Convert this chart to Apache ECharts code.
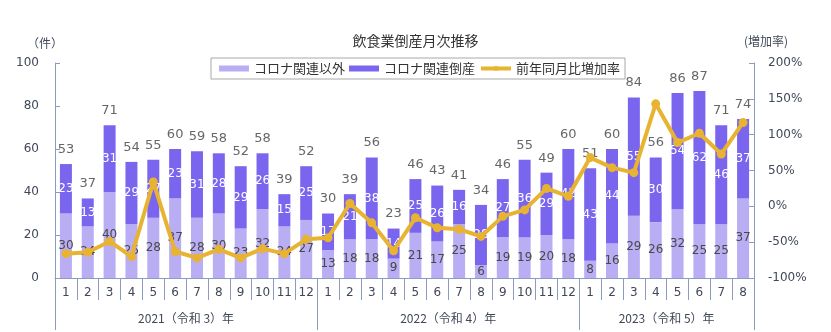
<!DOCTYPE html>
<html>
<head>
<meta charset="utf-8">
<script src="https://cdn.jsdelivr.net/npm/echarts@6/dist/echarts.min.js"></script>
<style>
  html, body { margin: 0; padding: 0; background: #fff; }
  #chart { width: 831px; height: 332px; }
</style>
</head>
<body>
<div id="chart"></div>
<script>
// Monthly restaurant-industry bankruptcies, Jan 2021 – Aug 2023
const months = ['1','2','3','4','5','6','7','8','9','10','11','12',
                '1','2','3','4','5','6','7','8','9','10','11','12',
                '1','2','3','4','5','6','7','8'];
const yearLabels = ['2021（令和 3）年', '2022（令和 4）年', '2023（令和 5）年'];
const yearCenters = [6, 18, 28];
const yearBounds = [0, 12, 24, 32];

// Non-COVID-related bankruptcies
const nonCovid = [30, 24, 40, 25, 28, 37, 28, 30, 23, 32, 24, 27,
                  13, 18, 18, 9, 21, 17, 25, 6, 19, 19, 20, 18,
                  8, 16, 29, 26, 32, 25, 25, 37];
// COVID-related bankruptcies
const covid = [23, 13, 31, 29, 27, 23, 31, 28, 29, 26, 15, 25,
               17, 21, 38, 14, 25, 26, 16, 28, 27, 36, 29, 42,
               43, 44, 55, 30, 54, 62, 46, 37];
// Year-on-year change (%)
const yoy = [-66, -64, -49, -70, 34, -63, -72, -60, -72, -59, -66, -46,
             -44, 4, -23, -62, -16, -30, -32, -42, -14, -5, 25, 14,
             68, 54, 47, 143, 89, 102, 73, 117];

const totals = nonCovid.map((v, i) => v + covid[i]);

const axisColor = '#8a9cc0';
const textColor = '#404858';
const lineColor = '#e8b330';
const numFont = '"DejaVu Sans", "Noto Sans CJK JP", sans-serif';
const jpFont = '"Noto Sans CJK JP", sans-serif';

const chart = echarts.init(document.getElementById('chart'), null, { renderer: 'canvas' });

chart.setOption({
  animation: false,
  backgroundColor: '#fff',
  title: {
    text: '飲食業倒産月次推移',
    left: 'center',
    top: 29,
    textStyle: { fontFamily: jpFont, fontSize: 14, fontWeight: 'normal', color: '#333' }
  },
  legend: {
    data: [
      { name: 'コロナ関連以外', icon: 'rect' },
      { name: 'コロナ関連倒産', icon: 'rect' },
      { name: '前年同月比増加率', lineStyle: { width: 4 } }
    ],
    left: 211,
    top: 58,
    padding: [4, 5, 4, 8],
    itemGap: 4,
    itemWidth: 30,
    itemHeight: 6,
    borderColor: '#a8a8a8',
    borderWidth: 1,
    borderRadius: 0,
    textStyle: { fontFamily: jpFont, fontSize: 13, color: '#333' }
  },
  graphic: [
    { type: 'text', left: 27, top: 37, style: { text: '（件）', font: '12px "Noto Sans CJK JP"', fill: textColor } },
    { type: 'text', left: 744, top: 35, style: { text: '(増加率)', font: '12px "Noto Sans CJK JP"', fill: textColor } }
  ],
  grid: { left: 55, right: 77, top: 63, bottom: 54 },
  xAxis: [
    {
      type: 'category',
      data: months,
      boundaryGap: true,
      axisLine: { onZero: false, lineStyle: { color: axisColor } },
      axisTick: { show: true, interval: 0, alignWithLabel: false, length: 22, lineStyle: { color: axisColor } },
      axisLabel: { interval: 0, margin: 9, fontFamily: numFont, fontSize: 12, color: textColor }
    },
    {
      // year bands under the month labels
      type: 'value',
      min: 0,
      max: 32,
      position: 'bottom',
      axisLine: { show: false, onZero: false },
      splitLine: { show: false },
      axisTick: { show: true, customValues: yearBounds, length: 52, lineStyle: { color: axisColor } },
      axisLabel: {
        customValues: yearCenters,
        margin: 34,
        fontFamily: jpFont,
        fontSize: 12,
        color: textColor,
        formatter: v => yearLabels[yearCenters.indexOf(v)]
      }
    }
  ],
  yAxis: [
    {
      type: 'value',
      min: 0,
      max: 100,
      interval: 20,
      axisLine: { show: true, lineStyle: { color: axisColor } },
      axisTick: { show: true, inside: true, length: 5, lineStyle: { color: axisColor } },
      splitLine: { show: false },
      axisLabel: { margin: 16, fontFamily: numFont, fontSize: 12, color: textColor }
    },
    {
      type: 'value',
      min: -100,
      max: 200,
      interval: 50,
      position: 'right',
      axisLine: { show: true, lineStyle: { color: axisColor } },
      axisTick: { show: true, inside: true, length: 5, lineStyle: { color: axisColor } },
      splitLine: { show: false },
      axisLabel: { margin: 14, fontFamily: numFont, fontSize: 12, color: textColor, formatter: '{value}%' }
    }
  ],
  series: [
    {
      name: 'コロナ関連以外',
      type: 'bar',
      stack: 'total',
      data: nonCovid,
      barWidth: 12,
      itemStyle: { color: '#b9aef4' },
      label: { show: true, position: 'inside', fontFamily: numFont, fontSize: 12, color: '#484848' }
    },
    {
      name: 'コロナ関連倒産',
      type: 'bar',
      stack: 'total',
      data: covid,
      barWidth: 12,
      itemStyle: { color: '#7a66ee' },
      label: { show: true, position: 'inside', fontFamily: numFont, fontSize: 12, color: '#ffffff' }
    },
    {
      // monthly totals shown above each stacked bar
      name: '合計',
      type: 'scatter',
      data: totals,
      symbolSize: 0,
      silent: true,
      label: { show: true, position: 'top', distance: 8, fontFamily: numFont, fontSize: 13, color: '#404040',
               formatter: p => p.value }
    },
    {
      name: '前年同月比増加率',
      type: 'line',
      yAxisIndex: 1,
      data: yoy,
      symbol: 'circle',
      symbolSize: 9,
      lineStyle: { color: lineColor, width: 4 },
      itemStyle: { color: lineColor },
      z: 5
    }
  ]
});
</script>
</body>
</html>
